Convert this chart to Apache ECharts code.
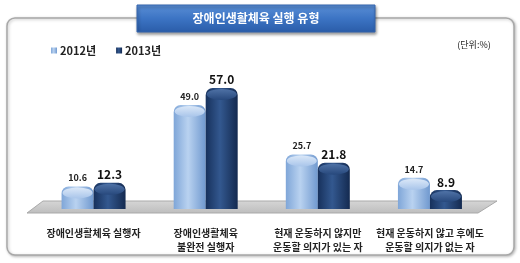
<!DOCTYPE html>
<html>
<head>
<meta charset="utf-8">
<script src="https://cdn.jsdelivr.net/npm/echarts@6/dist/echarts.min.js"></script>
<style>
  html, body { margin: 0; padding: 0; background: #fff; }
  #chart { width: 520px; height: 263px; }
</style>
</head>
<body>
<div id="chart"></div>
<script>
// 장애인생활체육 실행 유형 (단위:%)
var categories = [
  '장애인생활체육 실행자',
  '장애인생활체육\n불완전 실행자',
  '현재 운동하지 않지만\n운동할 의지가 있는 자',
  '현재 운동하지 않고 후에도\n운동할 의지가 없는 자'
];
var seriesNames = ['2012년', '2013년'];
var values2012 = [10.6, 49.0, 25.7, 14.7];
var values2013 = [12.3, 57.0, 21.8, 8.9];

var font = '"Noto Sans CJK KR", "Noto Sans", sans-serif';

function hGrad(c1, c2, c3) {
  return new echarts.graphic.LinearGradient(0, 0, 1, 0, [
    { offset: 0, color: c1 },
    { offset: 0.45, color: c2 },
    { offset: 1, color: c3 }
  ]);
}

var light = hGrad('#7fa6d8', '#b9d2f0', '#7099cf');
var dark = hGrad('#17315c', '#33588f', '#142a50');
var lightCap = new echarts.graphic.LinearGradient(0, 0, 0, 1, [
  { offset: 0, color: '#dbe8f8' },
  { offset: 1, color: '#a9c5ea' }
]);
var darkCap = new echarts.graphic.LinearGradient(0, 0, 0, 1, [
  { offset: 0, color: '#4f72a6' },
  { offset: 1, color: '#27487c' }
]);

function oneDecimal(p) { return Number(p.value).toFixed(1); }

var chart = echarts.init(document.getElementById('chart'), null, { renderer: 'canvas' });
chart.setOption({
  animation: false,
  backgroundColor: '#fff',
  graphic: [
    {
      type: 'rect', z: -10,
      shape: { x: 7, y: 18, width: 507, height: 237, r: 8 },
      style: { fill: '#fff', stroke: '#a8a8a8', lineWidth: 1.5,
        shadowBlur: 3, shadowColor: 'rgba(0,0,0,0.25)', shadowOffsetX: 1, shadowOffsetY: 1 }
    },
    {
      type: 'polygon', z: -5,
      shape: { points: [[43, 201], [497, 201], [478, 213], [27, 213]] },
      style: {
        fill: new echarts.graphic.LinearGradient(0, 0, 0, 1, [
          { offset: 0, color: '#d6d6d6' },
          { offset: 1, color: '#bdbdbd' }
        ]),
        stroke: '#a9a9a9', lineWidth: 1
      }
    },
    {
      type: 'rect', z: 10,
      shape: { x: 137, y: 5, width: 238, height: 27 },
      style: {
        fill: new echarts.graphic.LinearGradient(0, 0, 0, 1, [
          { offset: 0, color: '#5b8fd6' },
          { offset: 0.5, color: '#3c74c4' },
          { offset: 1, color: '#2a5ca8' }
        ]),
        stroke: '#3565ad', lineWidth: 1,
        shadowBlur: 3, shadowColor: 'rgba(0,0,0,0.4)', shadowOffsetX: 1, shadowOffsetY: 2
      }
    },
    {
      type: 'text', z: 11,
      x: 256, y: 18,
      style: { text: '장애인생활체육 실행 유형', fill: '#fff', font: 'bold 12px ' + font,
        align: 'center', verticalAlign: 'middle' }
    },
    {
      type: 'text', z: 11,
      x: 474, y: 45,
      style: { text: '(단위:%)', fill: '#222', font: '9px ' + font,
        align: 'center', verticalAlign: 'middle' }
    }
  ],
  legend: {
    data: seriesNames,
    left: 46, top: 40,
    icon: 'rect',
    itemWidth: 6, itemHeight: 6, itemGap: 20,
    textStyle: { fontFamily: font, fontSize: 11, fontWeight: 'bold', color: '#222', padding: [0, 0, 0, -2] }
  },
  grid: { left: 37.5, right: 34, top: 60.25, height: 148.75 },
  xAxis: {
    type: 'category',
    data: categories,
    axisLine: { show: false },
    axisTick: { show: false },
    axisLabel: {
      interval: 0, margin: 17, color: '#222',
      fontFamily: font, fontSize: 10, lineHeight: 14, fontWeight: 'bold'
    }
  },
  yAxis: {
    type: 'value', min: 0, max: 70,
    show: false,
    splitLine: { show: false }
  },
  series: [
    {
      name: seriesNames[0], type: 'bar', data: values2012,
      barWidth: 32, barGap: '0%',
      itemStyle: { color: light, borderRadius: [7, 7, 0, 0] },
      label: { show: true, position: 'top', distance: 4, color: '#222', formatter: oneDecimal,
        fontFamily: font, fontSize: 9, fontWeight: 'bold' }
    },
    {
      name: seriesNames[1], type: 'bar', data: values2013,
      barWidth: 32, barGap: '0%',
      itemStyle: { color: dark, borderRadius: [7, 7, 0, 0] },
      label: { show: true, position: 'top', distance: 2, color: '#111', formatter: oneDecimal,
        fontFamily: font, fontSize: 12, fontWeight: 'bold' }
    },
    {
      name: 'cap2012', type: 'pictorialBar', data: values2012,
      barWidth: 32, barGap: '0%',
      symbol: 'circle', symbolSize: [30, 11], symbolPosition: 'end', symbolOffset: [0, 1],
      itemStyle: { color: lightCap }, z: 3, legendHoverLink: false
    },
    {
      name: 'cap2013', type: 'pictorialBar', data: values2013,
      barWidth: 32, barGap: '0%',
      symbol: 'circle', symbolSize: [30, 11], symbolPosition: 'end', symbolOffset: [0, 1],
      itemStyle: { color: darkCap }, z: 3, legendHoverLink: false
    }
  ]
});
</script>
</body>
</html>
